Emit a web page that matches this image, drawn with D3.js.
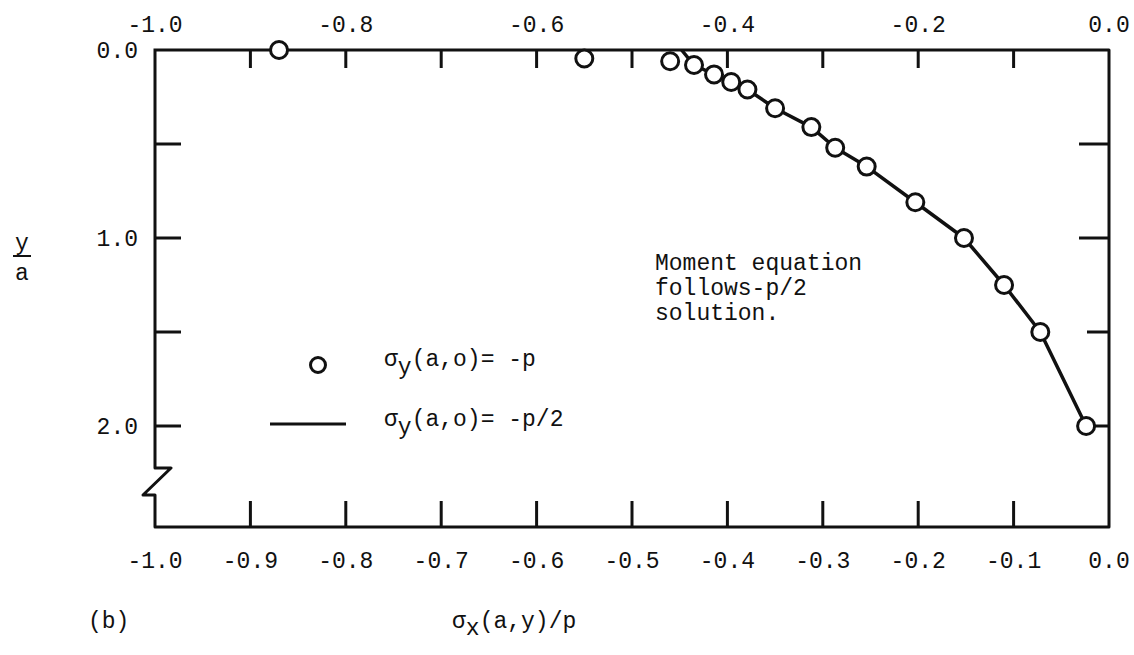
<!DOCTYPE html>
<html>
<head>
<meta charset="utf-8">
<script src="https://cdn.jsdelivr.net/npm/d3@7"></script>
<style>
  html, body { margin: 0; padding: 0; background: #fff; }
  svg { display: block; }
  text { font-family: "Liberation Mono", "DejaVu Sans Mono", monospace; fill: #111; }
</style>
</head>
<body>
<svg id="chart" width="1134" height="655"></svg>
<script>
// ---- data ----
const circleX = [-0.87, -0.55, -0.46, -0.435, -0.414, -0.396, -0.379, -0.350, -0.312, -0.287, -0.254, -0.203, -0.152, -0.110, -0.072, -0.024];
const circleY = [0.00, 0.045, 0.06, 0.08, 0.13, 0.17, 0.21, 0.31, 0.41, 0.52, 0.62, 0.81, 1.00, 1.25, 1.50, 2.00];
const lineX = [-0.448, -0.435, -0.414, -0.396, -0.379, -0.350, -0.312, -0.287, -0.254, -0.203, -0.152, -0.110, -0.072, -0.024];
const lineY = [0.00, 0.08, 0.13, 0.17, 0.21, 0.31, 0.41, 0.52, 0.62, 0.81, 1.00, 1.25, 1.50, 2.00];
const bottomTicks = [-1.0, -0.9, -0.8, -0.7, -0.6, -0.5, -0.4, -0.3, -0.2, -0.1, 0.0];
const topTicks = [-0.9, -0.8, -0.7, -0.6, -0.5, -0.4, -0.3, -0.2, -0.1];
const topLabels = [-1.0, -0.8, -0.6, -0.4, -0.2, 0.0];
const yTicks = [0.5, 1.0, 1.5, 2.0];
const yLabels = [0.0, 1.0, 2.0];
const legendLabels = ["(a,o)= -p", "(a,o)= -p/2"];
const noteLines = ["Moment equation", "follows-p/2", "solution."];

// ---- layout ----
const L = 155, R = 1109, T = 50, B = 527;
const x = d3.scaleLinear().domain([-1, 0]).range([L, R]);
const y = d3.scaleLinear().domain([0, 2]).range([T, 426]);
const fmt = d => (Math.abs(d) < 1e-9 ? 0 : d).toFixed(1);
const FS = 23;

const svg = d3.select("#chart");
const ink = "#111";

// frame with axis break on the left edge
const frame = svg.append("g").attr("fill", "none").attr("stroke", ink).attr("stroke-width", 3)
  .attr("stroke-linejoin", "round").attr("stroke-linecap", "square");
frame.append("path").attr("d", `M${L},${T} H${R} V${B} H${L} V495 H${L-12} L${L+16},468 H${L} V${T}`);

// top ticks (inward) and labels
svg.append("g").selectAll("line").data(topTicks).join("line")
  .attr("x1", d => x(d)).attr("x2", d => x(d)).attr("y1", T).attr("y2", T + 18)
  .attr("stroke", ink).attr("stroke-width", 3);
svg.append("g").selectAll("text").data(topLabels).join("text")
  .attr("x", d => x(d)).attr("y", 32).attr("text-anchor", "middle")
  .attr("font-size", FS).text(fmt);

// bottom ticks and labels
svg.append("g").selectAll("line").data(bottomTicks.slice(1, -1)).join("line")
  .attr("x1", d => x(d)).attr("x2", d => x(d)).attr("y1", B).attr("y2", B - 26)
  .attr("stroke", ink).attr("stroke-width", 3);
svg.append("g").selectAll("text").data(bottomTicks).join("text")
  .attr("x", d => x(d)).attr("y", 568).attr("text-anchor", "middle")
  .attr("font-size", FS).text(fmt);

// left and right ticks
svg.append("g").selectAll("line").data(yTicks).join("line")
  .attr("x1", L).attr("x2", L + 26).attr("y1", d => y(d)).attr("y2", d => y(d))
  .attr("stroke", ink).attr("stroke-width", 3);
svg.append("g").selectAll("line").data(yTicks).join("line")
  .attr("x1", R).attr("x2", (d, i) => R - [30, 30, 22, 18][i]).attr("y1", d => y(d)).attr("y2", d => y(d))
  .attr("stroke", ink).attr("stroke-width", 3);
svg.append("g").selectAll("text").data(yLabels).join("text")
  .attr("x", 138).attr("y", d => y(d) + 8).attr("text-anchor", "end")
  .attr("font-size", FS).text(fmt);

// y-axis title  y / a
svg.append("text").attr("x", 22).attr("y", 250).attr("text-anchor", "middle").attr("font-size", FS).text("y");
svg.append("line").attr("x1", 13).attr("x2", 31).attr("y1", 256).attr("y2", 256).attr("stroke", ink).attr("stroke-width", 2);
svg.append("text").attr("x", 22).attr("y", 280).attr("text-anchor", "middle").attr("font-size", FS).text("a");

// x-axis title
const xt = svg.append("text").attr("x", 452).attr("y", 628).attr("font-size", FS);
xt.append("tspan").text("σ");
xt.append("tspan").attr("dy", 7).text("x");
xt.append("tspan").attr("dy", -7).text("(a,y)/p");
svg.append("text").attr("x", 88).attr("y", 628).attr("font-size", FS).text("(b)");

// data line (-p/2 solution)
svg.append("path")
  .datum(lineX.map((v, i) => [v, lineY[i]]))
  .attr("d", d3.line().x(d => x(d[0])).y(d => y(d[1])).curve(d3.curveLinear))
  .attr("fill", "none").attr("stroke", ink).attr("stroke-width", 3.5).attr("stroke-linejoin", "round");

// circles (-p solution)
svg.append("g").selectAll("circle").data(circleX.map((v, i) => [v, circleY[i]])).join("circle")
  .attr("cx", d => x(d[0])).attr("cy", d => y(d[1])).attr("r", 8.5)
  .attr("fill", "#fff").attr("stroke", ink).attr("stroke-width", 3);

// legend
svg.append("circle").attr("cx", 318).attr("cy", 365).attr("r", 7.5).attr("fill", "#fff").attr("stroke", ink).attr("stroke-width", 3);
svg.append("line").attr("x1", 270).attr("x2", 346).attr("y1", 424).attr("y2", 424).attr("stroke", ink).attr("stroke-width", 3);
legendLabels.forEach((lab, i) => {
  const t = svg.append("text").attr("x", 384).attr("y", 366 + i * 60).attr("font-size", FS);
  t.append("tspan").text("σ");
  t.append("tspan").attr("dy", 8).text("y");
  t.append("tspan").attr("dy", -8).text(lab);
});

// annotation
svg.append("g").selectAll("text").data(noteLines).join("text")
  .attr("x", 655).attr("y", (d, i) => 270 + i * 25).attr("font-size", FS).text(d => d);
</script>
</body>
</html>
